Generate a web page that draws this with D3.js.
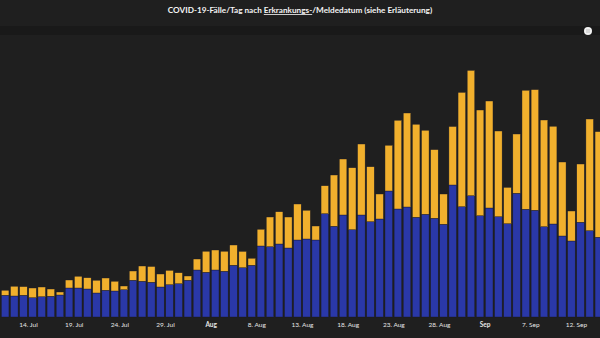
<!DOCTYPE html>
<html>
<head>
<meta charset="utf-8">
<script src="https://cdn.jsdelivr.net/npm/d3@7"></script>
<style>
  html, body { margin: 0; padding: 0; background: #1f1f1f; overflow: hidden; }
  svg { display: block; font-family: Lato, "Open Sans", sans-serif; }
</style>
</head>
<body>
<svg id="chart" width="600" height="338"></svg>
<script>
// days from 11 Jul to 14 Sep
var firstDay = new Date(2020, 6, 11);
var days = d3.timeDay.range(firstDay, new Date(2020, 8, 15));

// cases with known onset date (blue) and report date only (orange)
var erkrankung = [174,168,174,154,162,166,176,232,232,224,192,214,208,218,294,286,
  278,240,258,266,294,376,358,376,366,414,394,414,568,562,584,552,616,624,616,826,
  726,816,698,816,762,784,1008,864,880,798,822,790,742,1056,882,970,810,872,802,746,
  990,862,854,722,744,648,608,758,690,638];
var meldung = [40,78,69,78,78,58,24,64,94,90,102,98,78,30,74,122,
  126,104,115,88,34,88,168,160,160,162,131,56,134,238,258,248,288,230,112,224,
  410,448,496,568,440,200,366,710,752,744,672,549,242,468,915,1003,846,856,686,291,
  474,952,965,854,782,592,240,466,894,845];

var tickDays = [new Date(2020,6,14), new Date(2020,6,19), new Date(2020,6,24), new Date(2020,6,29),
  new Date(2020,7,3), new Date(2020,7,8), new Date(2020,7,13), new Date(2020,7,18), new Date(2020,7,23),
  new Date(2020,7,28), new Date(2020,8,2), new Date(2020,8,7), new Date(2020,8,12)];
var tickLabels = ["14. Jul","19. Jul","24. Jul","29. Jul","Aug","8. Aug","13. Aug","18. Aug",
  "23. Aug","28. Aug","Sep","7. Sep","12. Sep"];
var monthLabels = ["Aug","Sep"];

var svg = d3.select("#chart");
var dayW = 9.133;
var baseY = 317;

var x = d3.scaleTime()
    .domain([firstDay, d3.timeDay.offset(firstDay, days.length)])
    .range([0.6, 0.6 + dayW * days.length]);
var y = d3.scaleLinear().domain([0, 2200]).range([baseY, 42]);

var rows = days.map(function(d, i) {
  return {day: d, blue: erkrankung[i], orange: meldung[i]};
});

var stack = d3.stack().keys(["blue", "orange"])(rows);
var colors = {blue: "#2a38a8", orange: "#f1b02d"};

// slider strip under the title
svg.append("rect").attr("x", 0).attr("y", 26).attr("width", 600).attr("height", 9).attr("fill", "#191919");
svg.append("rect").attr("x", 584).attr("y", 27).attr("width", 8).attr("height", 8).attr("rx", 4).attr("fill", "#f2f2f2");
svg.append("line").attr("x1", 587).attr("x2", 587).attr("y1", 29).attr("y2", 33).attr("stroke", "#999").attr("stroke-width", 0.6);
svg.append("line").attr("x1", 589).attr("x2", 589).attr("y1", 29).attr("y2", 33).attr("stroke", "#999").attr("stroke-width", 0.6);

var title = svg.append("text")
    .attr("x", 300).attr("y", 13)
    .attr("text-anchor", "middle")
    .attr("fill", "#f4f4f4")
    .attr("font-size", 8.2)
    .attr("font-weight", "bold");
title.append("tspan").text("COVID-19-Fälle/Tag nach ");
title.append("tspan").attr("text-decoration", "underline").text("Erkrankungs-");
title.append("tspan").text("/Meldedatum (siehe Erläuterung)");

svg.append("g")
  .selectAll("g")
  .data(stack)
  .enter().append("g")
    .attr("fill", function(s) { return colors[s.key]; })
  .selectAll("rect")
  .data(function(s) { return s; })
  .enter().append("rect")
    .attr("x", function(d) { return x(d.data.day) + 0.8; })
    .attr("width", dayW - 1.6)
    .attr("y", function(d) { return y(d[1]); })
    .attr("height", function(d) { return y(d[0]) - y(d[1]); })
    .attr("stroke", "#1c1c2a")
    .attr("stroke-width", 0.4);

var axis = d3.axisBottom(x)
    .tickValues(tickDays)
    .tickSize(0)
    .tickPadding(5)
    .tickFormat(function(d, i) { return tickLabels[i]; });

var ax = svg.append("g")
    .attr("transform", "translate(0," + baseY + ")")
    .call(axis);
ax.select(".domain").remove();
ax.selectAll("text")
    .attr("fill", "#e6e6e6")
    .attr("font-size", 6.5)
    .attr("font-family", "Lato, sans-serif")
    .attr("font-weight", function(d, i) { return monthLabels.indexOf(tickLabels[i]) >= 0 ? "bold" : "normal"; });
</script>
</body>
</html>
